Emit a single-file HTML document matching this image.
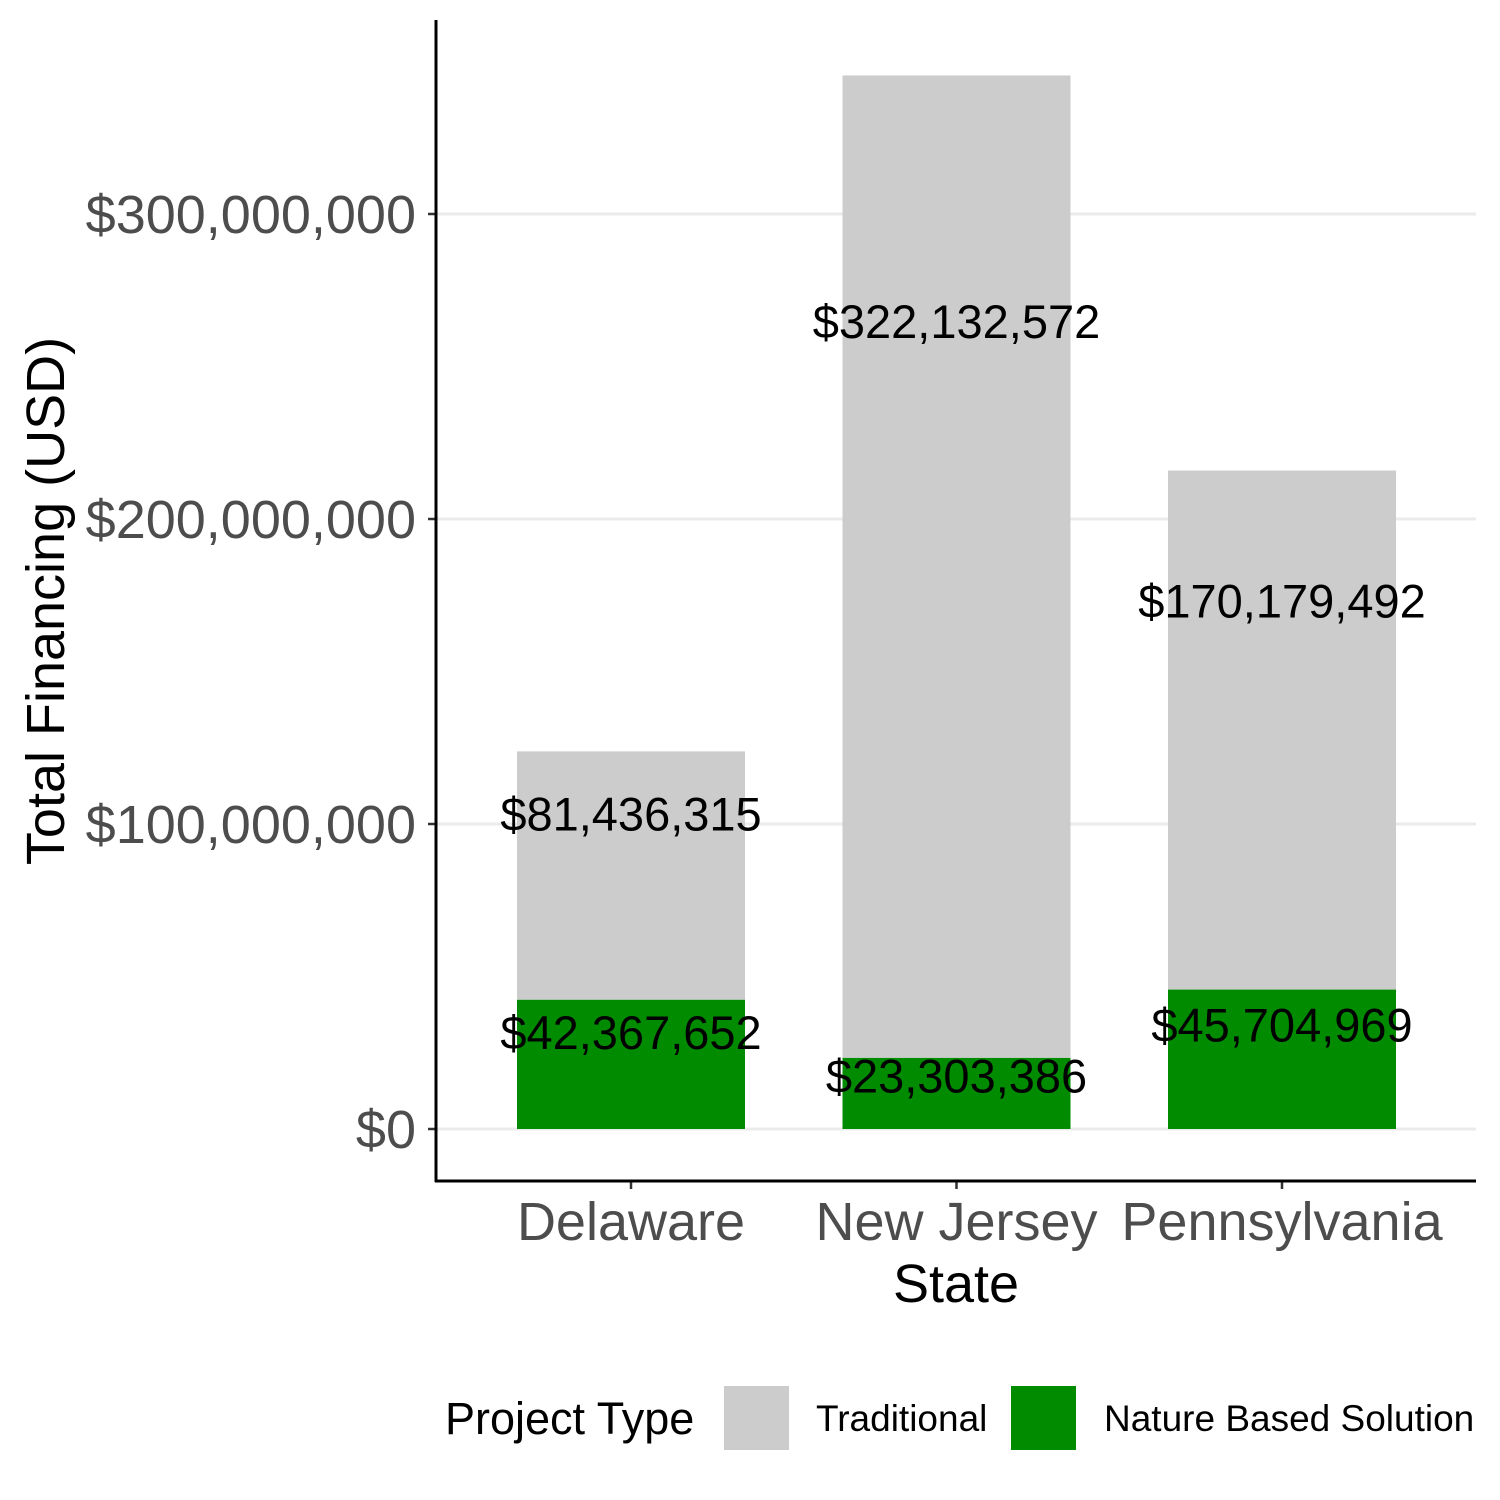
<!DOCTYPE html>
<html><head><meta charset="utf-8"><style>
html,body{margin:0;padding:0;background:#fff}
svg{display:block;font-family:"Liberation Sans",Arial,sans-serif}
</style></head><body>
<svg id="chart" width="1500" height="1500" viewBox="0 0 1500 1500"></svg>
<script>
const states = ["Delaware","New Jersey","Pennsylvania"];
const nbsValues = [42367652, 23303386, 45704969];
const tradValues = [81436315, 322132572, 170179492];
const yTicks = [0, 100000000, 200000000, 300000000];
const yTickLabels = ["$0","$100,000,000","$200,000,000","$300,000,000"];

const NS="http://www.w3.org/2000/svg";
const svg=document.getElementById('chart');
const y0=1129, pxPer=305/100000000;
const yScale=v=>y0-v*pxPer;
const xCenter=i=>631+i*325.5;
const barW=228;
function el(tag,attrs,parent){const e=document.createElementNS(NS,tag);for(const k in attrs)e.setAttribute(k,attrs[k]);(parent||svg).appendChild(e);return e;}
function fmt(v){return "$"+v.toLocaleString("en-US");}

yTicks.forEach((t,i)=>{
  const g=el('line',{x1:436,x2:1476,y1:yScale(t),y2:yScale(t),stroke:'#ebebeb','stroke-width':3});
  
  
  const tk=el('line',{x1:428,x2:436,y1:yScale(t),y2:yScale(t),stroke:'#333','stroke-width':2.5});
  
  
  const tx=el('text',{x:416,y:yScale(t)+19,'text-anchor':'end','font-size':54,fill:'#4d4d4d'});
  tx.textContent=yTickLabels[i];
  
  
});

states.forEach((s,i)=>{
  const cx=xCenter(i), n=nbsValues[i], t=tradValues[i];
  const rt=el('rect',{x:cx-barW/2,y:yScale(n+t),width:barW,height:yScale(n)-yScale(n+t),fill:'#cccccc'});
  
  
  const rn=el('rect',{x:cx-barW/2,y:yScale(n),width:barW,height:y0-yScale(n),fill:'#008b00'});
  
  
  const l1=el('text',{x:cx,y:yScale(n*0.75)+17,'text-anchor':'middle','font-size':47,fill:'#000'});
  l1.textContent=fmt(n);
  
  
  const l2=el('text',{x:cx,y:yScale(n+t*0.75)+17,'text-anchor':'middle','font-size':47,fill:'#000'});
  l2.textContent=fmt(t);
  
  
  const tk=el('line',{x1:cx,x2:cx,y1:1181,y2:1189,stroke:'#333','stroke-width':2.5});
  
  
  const xl=el('text',{x:cx,y:1240,'text-anchor':'middle','font-size':54,fill:'#4d4d4d'});
  xl.textContent=s;
  
  
});

const ay=el('line',{x1:436,x2:436,y1:20,y2:1182,stroke:'#000','stroke-width':3});


const ax=el('line',{x1:435,x2:1476,y1:1181,y2:1181,stroke:'#000','stroke-width':3});



const xt=el('text',{x:956,y:1302,'text-anchor':'middle','font-size':54,fill:'#000'});
xt.textContent='State';


const yt=el('text',{x:0,y:0,'text-anchor':'middle','font-size':54,fill:'#000',transform:'translate(64,601) rotate(-90)'});
yt.textContent='Total Financing (USD)';



const lt=el('text',{x:445,y:1434,'font-size':45,fill:'#000'});
lt.textContent='Project Type';


const k1=el('rect',{x:724,y:1386,width:65,height:64,fill:'#cccccc'});


const t1=el('text',{x:816,y:1431,'font-size':37,fill:'#000'});
t1.textContent='Traditional';


const k2=el('rect',{x:1011,y:1386,width:65,height:64,fill:'#008b00'});


const t2=el('text',{x:1104,y:1431,'font-size':37,fill:'#000'});
t2.textContent='Nature Based Solution';


</script>
</body></html>
